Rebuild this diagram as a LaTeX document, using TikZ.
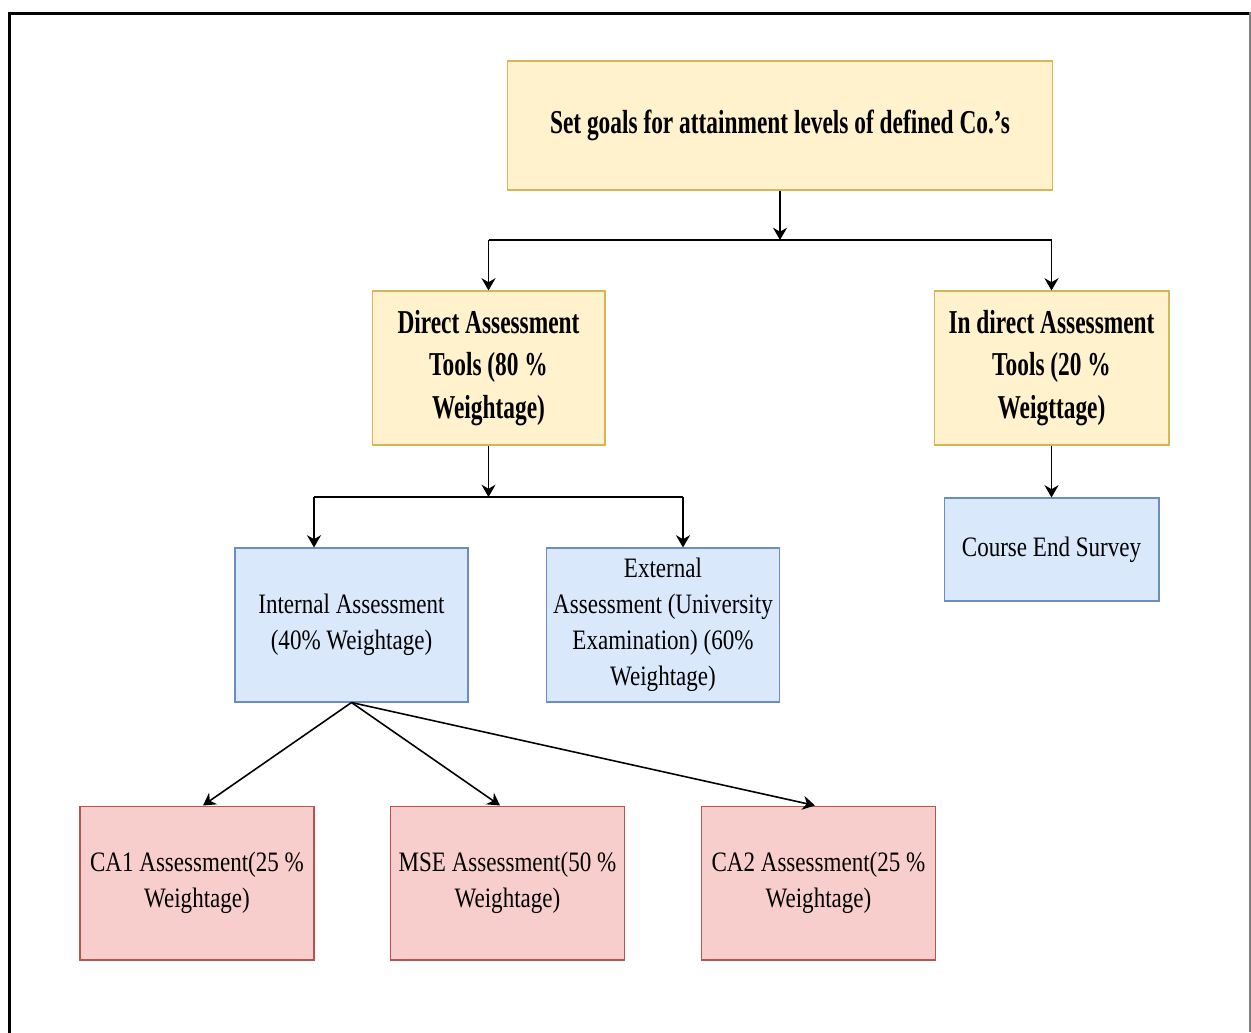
\documentclass[tikz,border=0pt]{standalone}
\usepackage{fontspec}
\setmainfont{Liberation Serif}[FakeStretch=0.82, BoldFeatures={FakeStretch=0.7}]
\usetikzlibrary{arrows.meta}

\definecolor{goalfill}{HTML}{FFF2CC}
\definecolor{goalline}{HTML}{D6B656}
\definecolor{assfill}{HTML}{DAE8FC}
\definecolor{assline}{HTML}{6C8EBF}
\definecolor{cafill}{HTML}{F8CECC}
\definecolor{caline}{HTML}{B85450}

\tikzset{
	goalbox/.style={shape=rectangle, draw=goalline, fill=goalfill, line width=0.6pt, align=center, inner sep=0pt, font=\fontsize{19}{24}\selectfont\bfseries},
	assbox/.style={shape=rectangle, draw=assline, fill=assfill, line width=0.6pt, align=center, inner sep=0pt, minimum width=4.66cm, minimum height=3.08cm, font=\fontsize{16}{20.5}\selectfont},
	cabox/.style={shape=rectangle, draw=caline, fill=cafill, line width=0.6pt, align=center, inner sep=0pt, minimum width=4.68cm, minimum height=3.08cm, font=\fontsize{16}{20.5}\selectfont},
	wire/.style={line width=0.9pt},
	arrow/.style={line width=0.9pt, -{Stealth[length=7pt, width=8pt]}}
}

\begin{document}
\begin{tikzpicture}[x=0.02cm, y=-0.02cm]
	\useasboundingbox (0, 0) rectangle (1251, 1032);
	% Frame:
	\draw[line width=2pt, line cap=rect] (9.5, 1032) -- (9.5, 13.5) -- (1248, 13.5);
	\draw[line width=0.6pt, gray] (1250, 12) -- (1250, 1032);
	% Boxes:
	\node[goalbox, minimum width=10.92cm, minimum height=2.58cm] (goals) at (780, 125.5){Set goals for attainment levels of defined Co.'s};
	\node[goalbox, minimum width=4.66cm, minimum height=3.08cm] (direct) at (488.5, 368){Direct Assessment\\Tools (80 \%\\Weightage)};
	\node[goalbox, minimum width=4.7cm, minimum height=3.08cm] (indirect) at (1051.5, 368){In direct Assessment\\Tools (20 \%\\Weigttage)};
	\node[assbox] (internal) at (351.5, 625){Internal Assessment\\(40\% Weightage)};
	\node[assbox] (external) at (663, 625){External\\Assessment (University\\Examination) (60\%\\Weightage)};
	\node[assbox, minimum width=4.3cm, minimum height=2.06cm] (survey) at (1051.5, 549.5){Course End Survey};
	\node[cabox] (caone) at (197, 883){CA1 Assessment(25 \%\\Weightage)};
	\node[cabox] (mse) at (507.5, 883){MSE Assessment(50 \%\\Weightage)};
	\node[cabox] (catwo) at (818.5, 883){CA2 Assessment(25 \%\\Weightage)};
	% Junctions:
	\coordinate (splitone) at (780, 240);
	\coordinate (splittwo) at (488.5, 497);
	\coordinate (splittwoL) at (314, 497);
	\coordinate (splittwoR) at (683, 497);
	% Wires:
	\draw[arrow] (goals.south) -- (splitone);
	\draw[wire] (direct.north |- splitone) -- (indirect.north |- splitone);
	\draw[arrow] (direct.north |- splitone) -- (direct.north);
	\draw[arrow] (indirect.north |- splitone) -- (indirect.north);
	\draw[arrow] (direct.south) -- (splittwo);
	\draw[wire] (splittwoL) -- (splittwoR);
	\draw[arrow] (splittwoL) -- (splittwoL |- internal.north);
	\draw[arrow] (splittwoR) -- (splittwoR |- external.north);
	\draw[arrow] (indirect.south) -- (survey.north);
	\draw[arrow] (internal.south) -- ([xshift=0.12cm]caone.north);
	\draw[arrow] (internal.south) -- ([xshift=-0.15cm]mse.north);
	\draw[arrow] (internal.south) -- ([xshift=-0.07cm]catwo.north);
\end{tikzpicture}
\end{document}
